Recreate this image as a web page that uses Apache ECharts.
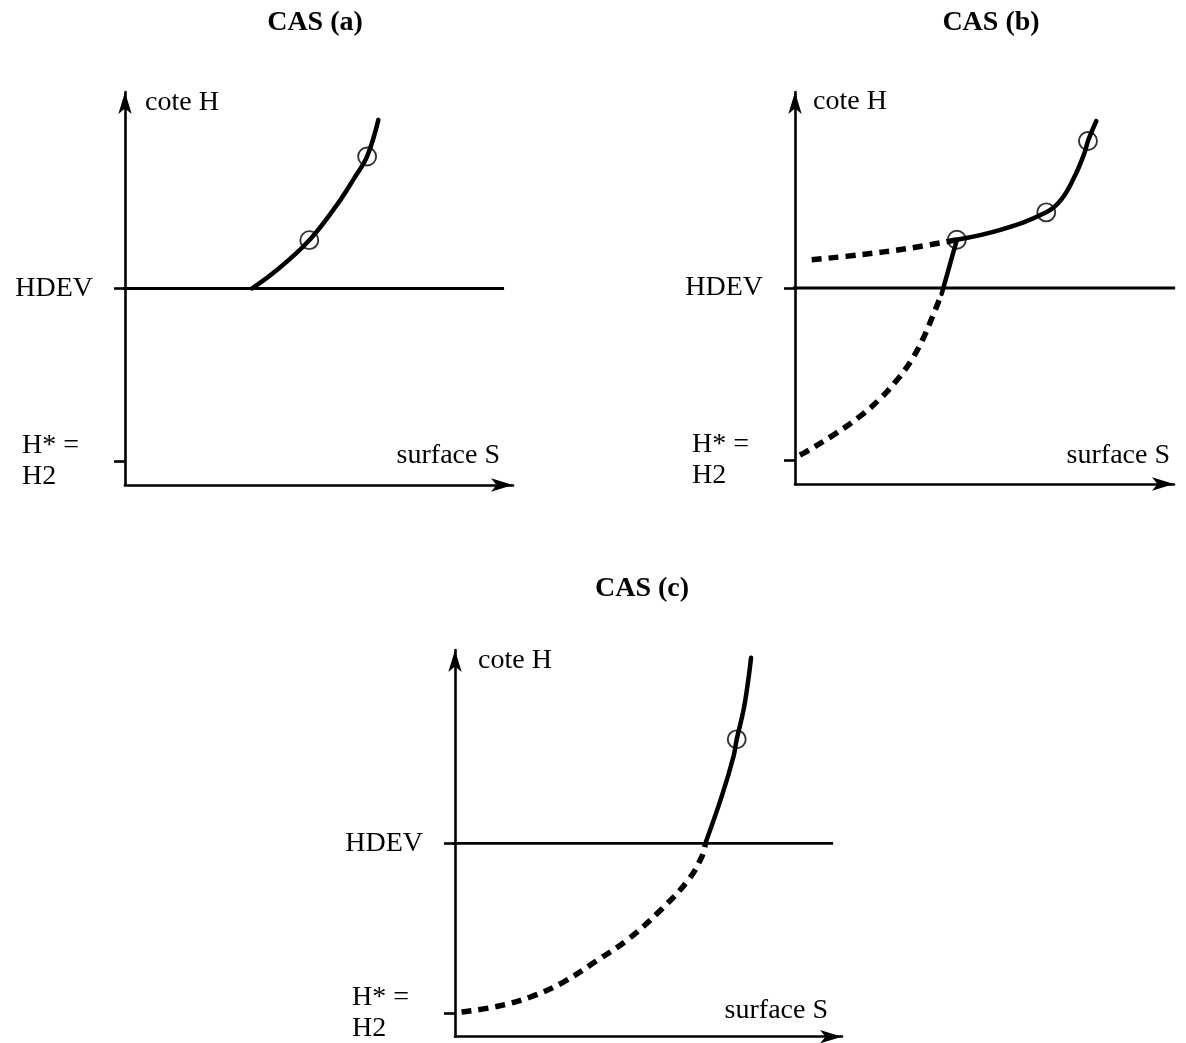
<!DOCTYPE html>
<html><head><meta charset="utf-8">
<script src="https://cdn.jsdelivr.net/npm/echarts@6/dist/echarts.min.js"></script>
<style>html,body{margin:0;padding:0;background:#fff}#c{width:1186px;height:1043px}</style>
</head><body><div id="c"></div>
<script>
// ---------- data ----------
const titles = ['CAS (a)', 'CAS (b)', 'CAS (c)'];
const yAxisName = 'cote H';
const xAxisName = 'surface S';
const HDEV = 50;
const H2 = 6;
const hdevLabel = 'HDEV';
const h2Label = ['H* =', 'H2'];
const hdevSpanA = [-3.1, 97.7];
const hdevSpanB = [-3.1, 100.3];
const hdevSpanC = [-2.6, 97.7];
const solidA = [[32.7,50],[38.9,54.5],[47.5,62.3],[54.7,71.4],[59.1,78.1],[62.4,83.6],[65.3,92.9]];
const circlesA = [[47.5,62.3],[62.4,83.6]];
const dashedUpperB = [[4.4,57.2],[17.3,58.5],[30.5,60.2],[42.7,62.3]];
const steepB = [[38.7,48.5],[42.7,62.3]];
const solidB = [[42.7,62.3],[54.4,64.9],[66.3,69.3],[70.3,72.6],[73.8,78.5],[76.4,84.5],[77.3,87.5],[79.5,92.6]];
const dashedLowerB = [[1.3,7.4],[2.9,8.2],[10.3,12.6],[17.2,17.3],[22.4,21.7],[26.9,26.5],[30.6,31.4],[33.5,36.5],[35.9,41.8],[38.7,48.5]];
const circlesB = [[42.7,62.3],[66.3,69.3],[77.3,87.5]];
const solidC = [[64.7,50],[69.0,62.4],[72.0,72.6],[72.8,76.9],[74.6,84.7],[75.8,92.4],[76.5,98.0]];
const dashedC = [[1.7,6.4],[10.7,7.8],[19.3,10.2],[27.8,14.0],[36.4,19.5],[45.0,25.4],[53.5,33.1],[60.4,40.7],[63.8,46.6],[64.7,50]];
const circlesC = [[72.8,76.9]];

// ---------- styling / layout ----------
const FONT = '"Liberation Serif", "Times New Roman", serif';
const grids = [
  {left: 125, top: 92, width: 388, height: 393},
  {left: 795, top: 92, width: 379, height: 392},
  {left: 455, top: 650, width: 387, height: 390}
];
const titlePos = [[315, 23], [991, 23], [642, 589]];
const yNamePos = [[145, 103], [813, 102], [478, 661]];
const xNamePos = [[500, 456], [1170, 456], [828, 1011]];

const xAxes = grids.map((g, i) => ({
  gridIndex: i, type: 'value', min: 0, max: 100,
  axisLine: {show: true, onZero: true, symbol: ['none', 'arrow'], symbolSize: [10, 22],
    lineStyle: {color: '#000', width: 2.6}},
  axisTick: {show: false}, axisLabel: {show: false}, splitLine: {show: false}
}));
const yAxes = grids.map((g, i) => ({
  gridIndex: i, type: 'value', min: 0, max: 100,
  axisLine: {show: true, onZero: true, symbol: ['none', 'arrow'], symbolSize: [10, 22],
    lineStyle: {color: '#000', width: 2.6}},
  axisTick: {show: true, customValues: [H2, HDEV], length: 11, lineStyle: {color: '#000', width: 2.6}},
  axisLabel: {
    show: true, customValues: [H2, HDEV], margin: 32, align: 'right',
    formatter: v => (Math.abs(v - HDEV) < 1e-6) ? '{h|' + hdevLabel + '}' : h2Label.map(t => '{s|' + t + '}').join('\n'),
    rich: {
      h: {fontFamily: FONT, fontSize: 28, color: '#000'},
      s: {fontFamily: FONT, fontSize: 28, color: '#000', width: 71, align: 'left', lineHeight: 31}
    }
  },
  splitLine: {show: false}
}));

function lineSeries(i, data, opts) {
  return Object.assign({
    type: 'line', xAxisIndex: i, yAxisIndex: i, data: data,
    showSymbol: false, symbol: 'none', smooth: 0.4, clip: false, silent: true,
    lineStyle: {color: '#000', width: 4.5, cap: 'round'}, z: 3
  }, opts || {});
}
function dashed(i, data) {
  return lineSeries(i, data, {lineStyle: {color: '#000', width: 5.5, type: [10, 7], cap: 'butt'}});
}
function hdevLine(i, span) {
  return lineSeries(i, [[span[0], HDEV], [span[1], HDEV]], {smooth: false,
    lineStyle: {color: '#000', width: 2.8}, z: 2});
}
function circles(i, data) {
  return {type: 'scatter', xAxisIndex: i, yAxisIndex: i, data: data, symbol: 'circle', symbolSize: 18,
    silent: true, clip: false, z: 5,
    itemStyle: {color: 'rgba(0,0,0,0)', borderColor: '#000', borderWidth: 1.9}};
}

const series = [
  hdevLine(0, hdevSpanA), lineSeries(0, solidA), circles(0, circlesA),
  hdevLine(1, hdevSpanB), dashed(1, dashedUpperB), dashed(1, dashedLowerB),
  lineSeries(1, steepB, {smooth: false}), lineSeries(1, solidB), circles(1, circlesB),
  hdevLine(2, hdevSpanC), dashed(2, dashedC), lineSeries(2, solidC), circles(2, circlesC)
];

const graphics = [];
titles.forEach((t, i) => graphics.push({type: 'text', x: titlePos[i][0], y: titlePos[i][1],
  style: {text: t, font: 'bold 28px ' + FONT, fill: '#000', textAlign: 'center', textVerticalAlign: 'middle'}}));
yNamePos.forEach(p => graphics.push({type: 'text', x: p[0], y: p[1],
  style: {text: yAxisName, font: '28px ' + FONT, fill: '#000', textAlign: 'left', textVerticalAlign: 'middle'}}));
xNamePos.forEach(p => graphics.push({type: 'text', x: p[0], y: p[1],
  style: {text: xAxisName, font: '28px ' + FONT, fill: '#000', textAlign: 'right', textVerticalAlign: 'middle'}}));

const chart = echarts.init(document.getElementById('c'), null, {renderer: 'canvas'});
chart.setOption({
  backgroundColor: '#fff',
  animation: false,
  grid: grids.map(g => Object.assign({containLabel: false}, g)),
  xAxis: xAxes,
  yAxis: yAxes,
  series: series,
  graphic: {elements: graphics}
});
</script></body></html>
